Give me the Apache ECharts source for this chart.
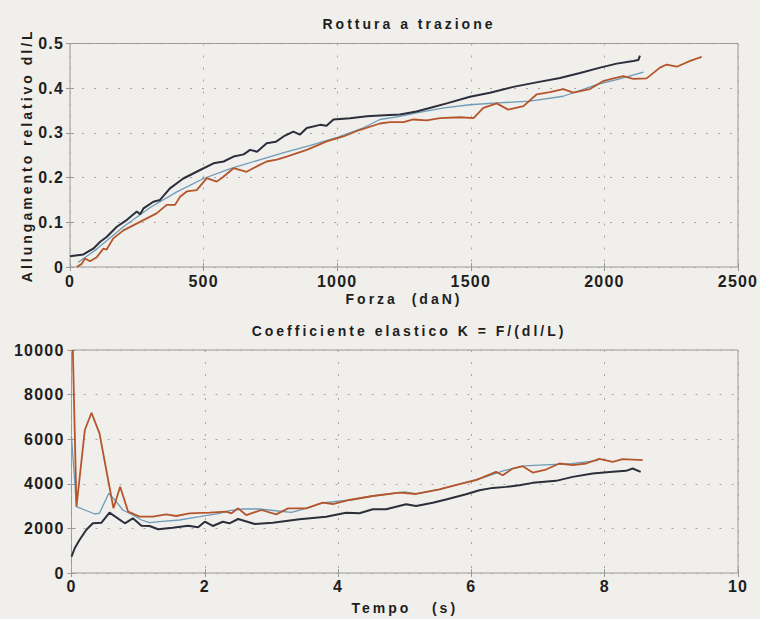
<!DOCTYPE html>
<html lang="it">
<head>
    <meta charset="UTF-8">
    <title>Rottura a trazione</title>
    <script src="https://cdn.jsdelivr.net/npm/echarts@6/dist/echarts.min.js"></script>
    <style>
        html, body { margin: 0; padding: 0; background: #f0efeb; }
        #chart text { letter-spacing: 1.2px; }
        #chart text[style*="14px"] { letter-spacing: 3px; }
    </style>
</head>
<body>

<div id="chart" style="width: 760px; height: 619px;"></div>

<script>
    // --- grafico superiore: allungamento relativo vs forza ---
    var forceTicks = [0, 500, 1000, 1500, 2000, 2500];
    var elongTicks = [0, 0.1, 0.2, 0.3, 0.4, 0.5];

    var forceBlack = [0, 50, 87, 112, 137, 175, 212, 250, 262, 275, 312, 337, 374, 424, 487, 537,
        575, 612, 650, 674, 700, 736, 770, 799, 836, 860, 886, 936, 960, 986, 1048, 1111,
        1160, 1235, 1297, 1360, 1410, 1497, 1572, 1659, 1746, 1834, 1909, 1984, 2046, 2108, 2127, 2133];
    var elongBlack = [0.024, 0.028, 0.041, 0.056, 0.067, 0.09, 0.105, 0.124, 0.118, 0.131, 0.146, 0.15, 0.176, 0.198, 0.217, 0.232,
        0.236, 0.247, 0.252, 0.262, 0.258, 0.277, 0.28, 0.292, 0.303, 0.296, 0.311, 0.318, 0.316, 0.33, 0.333, 0.337,
        0.339, 0.341, 0.348, 0.358, 0.366, 0.381, 0.39, 0.403, 0.413, 0.423, 0.434, 0.446, 0.455, 0.461, 0.463, 0.473];

    var forceBlue = [30, 100, 200, 300, 400, 500, 600, 700, 800, 900, 1000, 1100,
        1160, 1235, 1297, 1400, 1497, 1600, 1721, 1846, 1971, 2050, 2146];
    var elongBlue = [0.01, 0.04, 0.09, 0.133, 0.168, 0.198, 0.22, 0.238, 0.256, 0.272, 0.29, 0.312,
        0.33, 0.337, 0.345, 0.356, 0.363, 0.367, 0.371, 0.382, 0.408, 0.42, 0.436];

    var forceOrange = [25, 44, 56, 75, 100, 125, 137, 162, 200, 262, 324, 362, 393, 412, 437, 474,
        512, 549, 574, 612, 661, 699, 736, 774, 811, 886, 961, 1023, 1086, 1160, 1198, 1248,
        1285, 1335, 1385, 1460, 1510, 1547, 1597, 1640, 1697, 1746, 1796, 1846, 1884, 1946, 1996,
        2034, 2071, 2108, 2158, 2208, 2233, 2271, 2321, 2364];
    var elongOrange = [0, 0.007, 0.019, 0.013, 0.022, 0.041, 0.039, 0.064, 0.082, 0.101, 0.12, 0.139, 0.139, 0.157, 0.169, 0.172,
        0.199, 0.191, 0.202, 0.221, 0.213, 0.225, 0.236, 0.24, 0.247, 0.262, 0.281, 0.292, 0.307, 0.321, 0.324, 0.324,
        0.33, 0.328, 0.333, 0.335, 0.333, 0.356, 0.366, 0.352, 0.36, 0.386, 0.391, 0.398, 0.39, 0.398, 0.416,
        0.422, 0.427, 0.421, 0.422, 0.446, 0.453, 0.448, 0.461, 0.47];

    // --- grafico inferiore: coefficiente elastico vs tempo ---
    var timeTicks = [0, 2, 4, 6, 8, 10];
    var kTicks = [0, 2000, 4000, 6000, 8000, 10000];

    var timeBlack = [0, 0.05, 0.12, 0.22, 0.32, 0.45, 0.57, 0.8, 0.92, 1.05, 1.17, 1.3, 1.52, 1.75, 1.9, 2.0,
        2.12, 2.27, 2.37, 2.5, 2.75, 3.02, 3.42, 3.82, 4.12, 4.32, 4.52, 4.72, 5.02, 5.17, 5.42, 5.62,
        5.92, 6.12, 6.32, 6.52, 6.72, 6.92, 7.27, 7.52, 7.82, 8.12, 8.32, 8.42, 8.54];
    var kBlack = [731, 1121, 1480, 1928, 2229, 2256, 2705, 2229, 2453, 2121, 2108, 1960, 2031, 2121, 2049, 2300,
        2108, 2300, 2229, 2421, 2197, 2256, 2408, 2525, 2705, 2677, 2856, 2856, 3081, 3004, 3152, 3293,
        3533, 3713, 3817, 3862, 3937, 4042, 4132, 4311, 4461, 4536, 4581, 4686, 4536];

    var timeBlue = [0, 0.075, 0.2, 0.35, 0.42, 0.56, 0.65, 0.77, 0.92, 1.05, 1.17, 1.32, 1.62, 1.92,
        2.22, 2.37, 2.57, 2.82, 3.1, 3.3, 3.52, 3.77, 4.17, 4.52, 5.0, 5.17, 5.52, 5.82,
        6.2, 6.5, 6.8, 7.1, 7.5, 7.9];
    var kBlue = [6112, 2974, 2825, 2646, 2690, 3573, 3274, 2825, 2600, 2377, 2256, 2300, 2377, 2525,
        2677, 2794, 2870, 2870, 2780, 2720, 2900, 3140, 3274, 3453, 3640, 3550, 3753, 3990,
        4300, 4600, 4800, 4850, 4900, 5050];

    var timeOrange = [0.02, 0.075, 0.2, 0.3, 0.42, 0.55, 0.63, 0.73, 0.85, 1.02, 1.22, 1.42, 1.57, 1.77, 2.07,
        2.32, 2.4, 2.5, 2.62, 2.85, 3.07, 3.25, 3.52, 3.77, 3.92, 4.17, 4.52, 4.92, 5.17, 5.52, 5.82,
        6.07, 6.37, 6.47, 6.62, 6.77, 6.92, 7.12, 7.32, 7.52, 7.72, 7.92, 8.12, 8.27, 8.57];
    var kOrange = [10000, 2974, 6413, 7188, 6263, 4170, 2900, 3870, 2750, 2525, 2525, 2630, 2556, 2677, 2705,
        2750, 2677, 2900, 2600, 2825, 2630, 2900, 2900, 3152, 3094, 3274, 3453, 3600, 3543, 3753, 3990,
        4162, 4536, 4386, 4686, 4790, 4506, 4641, 4910, 4835, 4910, 5120, 4985, 5105, 5060];

    var BLACK = '#2b2e3b', BLUE = '#6e9bb8', ORANGE = '#b4552b';
    var FONT = '"Liberation Sans", Arial, sans-serif';

    function pairs(xs, ys) {
        return xs.map(function (x, i) { return [x, ys[i]]; });
    }

    var dashed = { show: true, lineStyle: { color: '#a8a8a8', width: 1, type: [2, 10] } };

    // asse principale con etichette
    function mainAxis(grid, ticks, pos, name, gap, labelMargin) {
        return {
            type: 'value', gridIndex: grid, position: pos,
            min: ticks[0], max: ticks[ticks.length - 1], interval: ticks[1] - ticks[0],
            name: name, nameLocation: 'middle', nameGap: gap, nameMoveOverlap: false,
            nameTextStyle: { fontFamily: FONT, fontWeight: 'bold', fontSize: 14, color: '#1e1e1e' },
            axisLine: { show: false },
            axisTick: { show: true, inside: true, length: 4, lineStyle: { color: '#999' } },
            axisLabel: {
                margin: labelMargin, fontFamily: FONT, fontWeight: 'bold', fontSize: 16, color: '#1e1e1e',
                formatter: function (v) { return String(v); }
            },
            splitLine: dashed
        };
    }
    // asse speculare solo per i tick sul lato opposto
    function mirrorAxis(grid, ticks, pos) {
        return {
            type: 'value', gridIndex: grid, position: pos,
            min: ticks[0], max: ticks[ticks.length - 1], interval: ticks[1] - ticks[0],
            axisLine: { show: false },
            axisTick: { show: true, inside: true, length: 4, lineStyle: { color: '#999' } },
            axisLabel: { show: false },
            splitLine: { show: false }
        };
    }

    var chart = echarts.init(document.getElementById('chart'), null, { renderer: 'svg' });

    var option = {
        backgroundColor: '#f0efeb',
        animation: false,
        title: [{
            text: 'Rottura a trazione', left: 404, top: 12, textAlign: 'center',
            textStyle: { fontFamily: FONT, fontWeight: 'bold', fontSize: 14, color: '#1e1e1e' }
        }, {
            text: 'Coefficiente elastico K = F/(dl/L)', left: 404, top: 319, textAlign: 'center',
            textStyle: { fontFamily: FONT, fontWeight: 'bold', fontSize: 14, color: '#1e1e1e' }
        }],
        grid: [
            { left: 70, top: 43.5, right: 22, bottom: 352, show: true, borderColor: '#9a9a9a', borderWidth: 1 },
            { left: 71.5, top: 350, right: 22, bottom: 46, show: true, borderColor: '#9a9a9a', borderWidth: 1 }
        ],
        xAxis: [
            mainAxis(0, forceTicks, 'bottom', 'Forza  (daN)', 25, 6),
            mainAxis(1, timeTicks, 'bottom', 'Tempo   (s)', 28, 5),
            mirrorAxis(0, forceTicks, 'top'),
            mirrorAxis(1, timeTicks, 'top')
        ],
        yAxis: [
            mainAxis(0, elongTicks, 'left', 'Allungamento relativo dl/L', 36, 6),
            mainAxis(1, kTicks, 'left', '', 40, 7),
            mirrorAxis(0, elongTicks, 'right'),
            mirrorAxis(1, kTicks, 'right')
        ],
        series: [
            { type: 'line', xAxisIndex: 0, yAxisIndex: 0, data: pairs(forceBlue, elongBlue),
                showSymbol: false, lineStyle: { color: BLUE, width: 1.3 } },
            { type: 'line', xAxisIndex: 0, yAxisIndex: 0, data: pairs(forceOrange, elongOrange),
                showSymbol: false, lineStyle: { color: ORANGE, width: 1.8 } },
            { type: 'line', xAxisIndex: 0, yAxisIndex: 0, data: pairs(forceBlack, elongBlack),
                showSymbol: false, lineStyle: { color: BLACK, width: 2 } },
            { type: 'line', xAxisIndex: 1, yAxisIndex: 1, data: pairs(timeBlue, kBlue),
                showSymbol: false, lineStyle: { color: BLUE, width: 1.3 } },
            { type: 'line', xAxisIndex: 1, yAxisIndex: 1, data: pairs(timeOrange, kOrange),
                showSymbol: false, lineStyle: { color: ORANGE, width: 1.8 } },
            { type: 'line', xAxisIndex: 1, yAxisIndex: 1, data: pairs(timeBlack, kBlack),
                showSymbol: false, lineStyle: { color: BLACK, width: 2 } }
        ]
    };

    chart.setOption(option);
</script>
</body>
</html>
